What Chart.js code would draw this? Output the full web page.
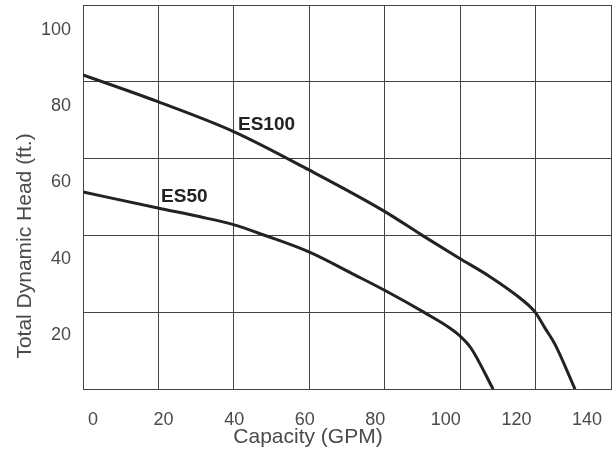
<!DOCTYPE html>
<html>
<head>
<meta charset="utf-8">
<script src="https://cdn.jsdelivr.net/npm/chart.js@4.4.1/dist/chart.umd.min.js"></script>
<style>
  html, body { margin: 0; padding: 0; background: #fff; }
  #wrap { width: 615px; height: 456px; }
</style>
</head>
<body>
<div id="wrap"><canvas id="pumpChart" width="615" height="456"></canvas></div>
<script>
// Curvas de desempenho
const es100Gpm  = [-2.8, 18.4, 40.0, 61.2, 82.5, 93.2, 103.7, 112.5, 121.0, 125.3, 128.1, 130.9, 136.6];
const es100Head = [88.2, 81.2, 73.3, 63.3, 52.5, 46.2, 40.2, 35.3, 29.7, 26.0, 21.8, 17.6, 5.8];
const es50Gpm   = [-2.8, 18.4, 30.4, 40.0, 48.2, 61.2, 74.3, 82.5, 94.1, 101.2, 103.7, 107.1, 113.4];
const es50Head  = [57.5, 53.3, 51.0, 48.9, 46.3, 41.8, 35.7, 31.8, 25.8, 21.8, 20.0, 16.6, 5.8];

// Rótulos dos eixos
const xTicks = [0, 20, 40, 60, 80, 100, 120, 140];
const yTicks = [20, 40, 60, 80, 100];
const xTitle = 'Capacity (GPM)';
const yTitle = 'Total Dynamic Head (ft.)';

// Nomes das curvas e onde ficam escritos
const curveNames = ['ES100', 'ES50'];
const nameGpm    = [41.1, 19.3];
const nameHead   = [75.1, 56.2];

const INK = '#222';
const GRID = '#444';
const TEXT = '#4a4a4a';

const toPoints = (xs, ys) => xs.map((x, i) => ({ x: x, y: ys[i] }));

// Títulos dos eixos e nomes das curvas
const labelsPlugin = {
    id: 'pumpLabels',
    afterDatasetsDraw: function(chart) {
        const ctx = chart.ctx;
        const xs = chart.scales.x;
        const ys = chart.scales.y;
        ctx.save();
        ctx.fillStyle = INK;
        ctx.font = 'bold 19px "Liberation Sans", Arial, sans-serif';
        ctx.textAlign = 'left';
        ctx.textBaseline = 'middle';
        curveNames.forEach((name, i) => {
            ctx.fillText(name, xs.getPixelForValue(nameGpm[i]), ys.getPixelForValue(nameHead[i]));
        });

        ctx.fillStyle = TEXT;
        ctx.font = '21px "Liberation Sans", Arial, sans-serif';
        ctx.textAlign = 'center';
        ctx.fillText(xTitle, 308, 437);

        ctx.translate(25, 246);
        ctx.rotate(-Math.PI / 2);
        ctx.fillText(yTitle, 0, 0);
        ctx.restore();
    }
};

const tickFont = { family: '"Liberation Sans", Arial, sans-serif', size: 18 };

// Remove as margens extras que o Chart.js reserva para os rótulos
const noPad = s => {
    s.paddingLeft = 0;
    s.paddingRight = 0;
    s.paddingTop = 0;
    s.paddingBottom = 0;
};

new Chart(document.getElementById('pumpChart'), {
    type: 'line',
    data: {
        datasets: [
            {
                label: curveNames[0],
                data: toPoints(es100Gpm, es100Head),
                borderColor: INK,
                borderWidth: 3,
                pointRadius: 0,
                cubicInterpolationMode: 'monotone',
                fill: false
            },
            {
                label: curveNames[1],
                data: toPoints(es50Gpm, es50Head),
                borderColor: INK,
                borderWidth: 3,
                pointRadius: 0,
                cubicInterpolationMode: 'monotone',
                fill: false
            }
        ]
    },
    options: {
        responsive: false,
        animation: false,
        layout: { padding: { top: 5, right: 4, left: 0, bottom: 0 } },
        plugins: {
            legend: { display: false },
            tooltip: { enabled: false }
        },
        scales: {
            x: {
                type: 'linear',
                position: 'bottom',
                min: -2.834,
                max: 146.8,
                afterBuildTicks: s => { s.ticks = xTicks.map(v => ({ value: v })); },
                afterFit: s => { s.height = 67; noPad(s); },
                grid: { display: false, drawTicks: false },
                border: { display: true, color: GRID, width: 1 },
                ticks: { color: TEXT, font: tickFont, padding: 20, maxRotation: 0, autoSkip: false }
            },
            y: {
                type: 'linear',
                position: 'left',
                min: 5.84,
                max: 106.56,
                afterBuildTicks: s => { s.ticks = yTicks.map(v => ({ value: v })); },
                afterFit: s => { s.width = 83; noPad(s); },
                grid: { display: false, drawTicks: false },
                border: { display: true, color: GRID, width: 1 },
                ticks: { color: TEXT, font: tickFont, padding: 12 }
            },
            // eixos só para desenhar a grade
            xg: {
                type: 'linear',
                position: 'top',
                min: 0,
                max: 7,
                afterBuildTicks: s => { s.ticks = [0, 1, 2, 3, 4, 5, 6, 7].map(v => ({ value: v })); },
                afterFit: s => { s.height = 0; noPad(s); },
                grid: { color: GRID, lineWidth: 1, drawTicks: false },
                border: { display: true, color: GRID, width: 1 },
                ticks: { display: false }
            },
            yg: {
                type: 'linear',
                position: 'right',
                min: 0,
                max: 5,
                afterBuildTicks: s => { s.ticks = [0, 1, 2, 3, 4, 5].map(v => ({ value: v })); },
                afterFit: s => { s.width = 0; noPad(s); },
                grid: { color: GRID, lineWidth: 1, drawTicks: false },
                border: { display: true, color: GRID, width: 1 },
                ticks: { display: false }
            }
        }
    },
    plugins: [labelsPlugin]
});
</script>
</body>
</html>
